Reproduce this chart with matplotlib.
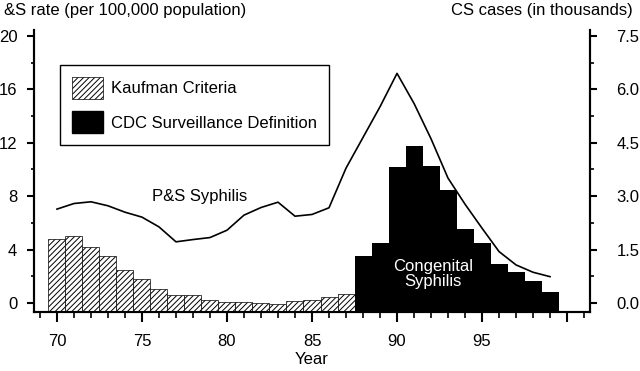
import numpy as np
import matplotlib.pyplot as plt
from matplotlib.patches import Patch
from matplotlib.ticker import MultipleLocator

plt.rcParams['font.family'] = ['Liberation Sans', 'DejaVu Sans']
plt.rcParams['hatch.linewidth'] = 0.7

# P&S syphilis rate (per 100,000), 1970-1999
ps_years = list(range(70, 100))
ps_rate = [7.03, 7.45, 7.58, 7.28, 6.8, 6.43, 5.7, 4.58, 4.75, 4.9,
           5.45, 6.58, 7.15, 7.55, 6.5, 6.63, 7.13, 10.1, 12.4, 14.7,
           17.2, 14.95, 12.3, 9.35, 7.4, 5.6, 3.85, 2.85, 2.3, 1.97]

# congenital syphilis cases (thousands)
kaufman_years = list(range(70, 88))
kaufman_cases = [1.79, 1.89, 1.57, 1.33, 0.92, 0.68, 0.38, 0.23, 0.21, 0.08,
                 0.02, 0.04, -0.01, -0.03, 0.05, 0.08, 0.16, 0.24]
cdc_years = list(range(88, 100))
cdc_cases = [1.31, 1.68, 3.81, 4.41, 3.84, 3.17, 2.07, 1.69, 1.10, 0.87, 0.62, 0.32]

x_ticks = [70, 75, 80, 85, 90, 95, 100]
x_labels = ['70', '75', '80', '85', '90', '95', '']

ymin, ymax = -0.70, 20.45
scale = 0.375  # CS thousands per rate unit

fig = plt.figure(figsize=(6.4, 3.71), dpi=100)
ax = fig.add_axes([34/640, 1 - 312.3/371, (590 - 34)/640, (312.3 - 30)/371])
ax2 = ax.twinx()

ax.set_xlim(68.65, 101.35)
ax.set_ylim(ymin, ymax)
ax2.set_ylim(ymin * scale, ymax * scale)

b0 = ymin * scale
ax2.bar(kaufman_years, np.array(kaufman_cases) - b0, bottom=b0, width=1,
        facecolor='white', edgecolor='black', hatch='//////', linewidth=0.5)
ax2.bar(cdc_years, np.array(cdc_cases) - b0, bottom=b0, width=1,
        color='black', linewidth=0)

ax.plot(ps_years, ps_rate, color='black', lw=1.2)

ax.text(78.4, 8.0, 'P&S Syphilis', ha='center', va='center', fontsize=12)
ax2.text(92.1, 0.8, 'Congenital\nSyphilis', ha='center', va='center',
         fontsize=12, color='white', linespacing=1.0)

handles = [Patch(facecolor='white', edgecolor='black', hatch='//////', linewidth=0.5),
           Patch(facecolor='black', edgecolor='black')]
leg = ax2.legend(handles, ['Kaufman Criteria', 'CDC Surveillance Definition'],
                 loc='upper left', bbox_to_anchor=(60/640, 1 - 65/371),
                 bbox_transform=fig.transFigure, borderaxespad=0,
                 fontsize=12, handlelength=1.86, handleheight=1.68,
                 labelspacing=0.72, handletextpad=0.5, borderpad=0.7,
                 fancybox=False, framealpha=1, edgecolor='black')
leg.get_frame().set_linewidth(1.0)

for a in (ax, ax2):
    a.spines['top'].set_visible(False)
    for s in ('left', 'right', 'bottom'):
        a.spines[s].set_linewidth(1.5)

ax.set_xticks(x_ticks)
ax.set_xticklabels(x_labels)
ax.xaxis.set_minor_locator(MultipleLocator(1))
ax.yaxis.set_major_locator(MultipleLocator(4))
ax.yaxis.set_minor_locator(MultipleLocator(2))
ax2.yaxis.set_major_locator(MultipleLocator(1.5))
ax2.yaxis.set_minor_locator(MultipleLocator(0.75))
ax2.yaxis.set_major_formatter(plt.FormatStrFormatter('%.1f'))
ax.set_yticks(np.arange(0, 21, 4))

ax.tick_params(axis='x', which='major', length=7.5, width=1.5, labelsize=12, pad=8)
ax.tick_params(axis='x', which='minor', length=4.3, width=1.2)
ax.tick_params(axis='y', which='major', length=5, width=1.5, labelsize=12, pad=7)
ax.tick_params(axis='y', which='minor', length=2.5, width=1.2)
ax2.tick_params(axis='y', which='major', length=5, width=1.5, labelsize=12, pad=14)
ax2.tick_params(axis='y', which='minor', length=3, width=1.2)

ax.set_xlabel('Year', fontsize=12, labelpad=2)

fig.text(4/640, 1 - 11/371, '&S rate (per 100,000 population)', ha='left', va='center', fontsize=12)
fig.text(633/640, 1 - 11/371, 'CS cases (in thousands)', ha='right', va='center', fontsize=12)

fig.savefig('out.png', dpi=100)
